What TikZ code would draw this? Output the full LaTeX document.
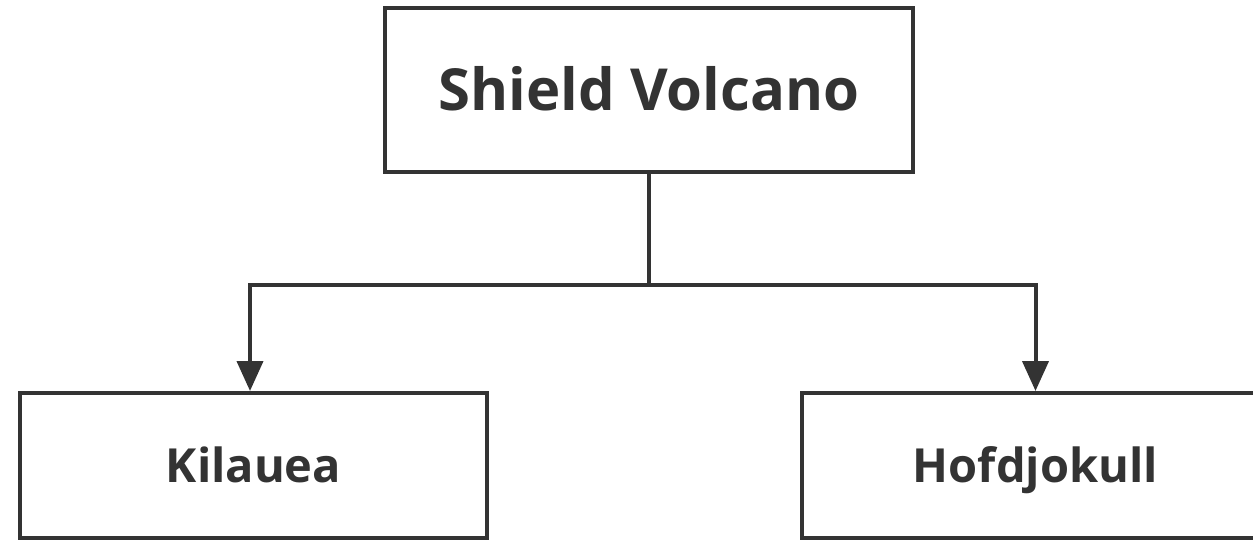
\documentclass[tikz,border=0pt]{standalone}
\usepackage{fontspec}
\setmainfont{Open Sans}
\usepackage{tikz}
\usetikzlibrary{positioning, arrows.meta}
\definecolor{inkgray}{HTML}{333333}

\begin{document}
\begin{tikzpicture}[
    x=1pt, y=-1pt,
    box/.style={
        rectangle,
        draw=inkgray, line width=4pt,
        text=inkgray,
        align=center,
        inner sep=0pt,
        text depth=0pt
    },
    link/.style={
        draw=inkgray, line width=4pt,
        -{Triangle[length=30pt,width=26pt]}
    }
]
\useasboundingbox (0,0) rectangle (1253,540);

% Root
\node[box,minimum width=528pt,minimum height=164pt,text height=41.5pt,
      font=\fontsize{58}{64}\selectfont\bfseries] (shield) at (649,90)
{Shield Volcano};

% Examples
\node[box,minimum width=467pt,minimum height=145pt,text height=33.5pt,
      font=\fontsize{47}{52}\selectfont\bfseries] (kilauea) at (253.5,465.5)
{Kilauea};
\node[box,minimum width=467pt,minimum height=145pt,text height=33.5pt,
      font=\fontsize{47}{52}\selectfont\bfseries] (hofdjokull) at (1035.5,465.5)
{Hofdjokull};

% Connectors
\draw[link] (shield.south) -- ++(0,111) -| ([xshift=-3.5pt]kilauea.north);
\draw[link] (shield.south) -- ++(0,111) -| (hofdjokull.north);

\end{tikzpicture}
\end{document}
